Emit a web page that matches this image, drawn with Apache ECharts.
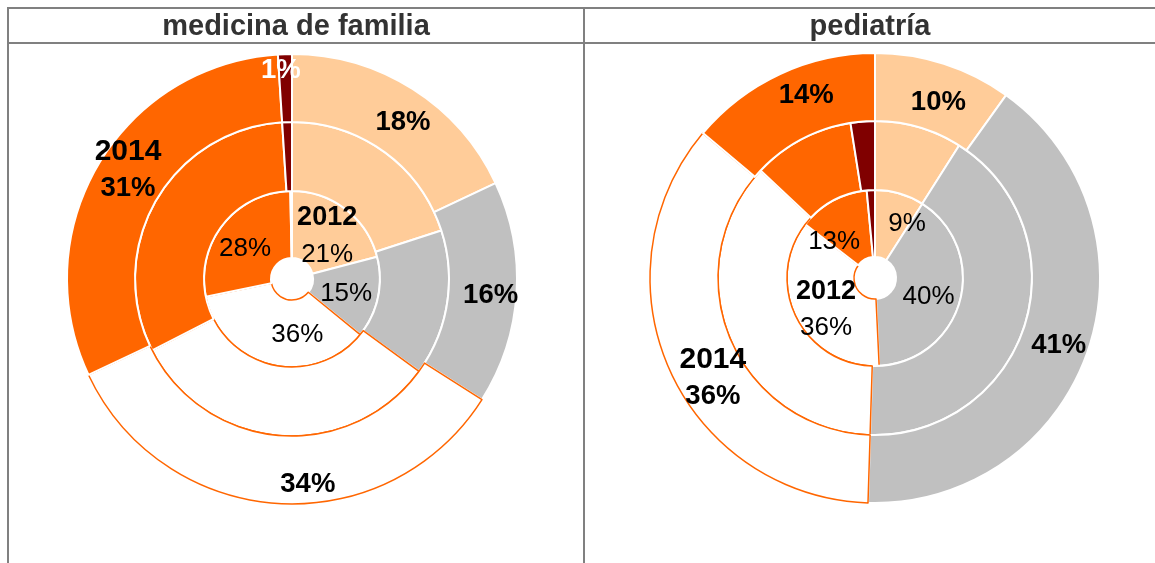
<!DOCTYPE html>
<html lang="es">
<head>
<meta charset="UTF-8">
<title>medicina de familia / pediatría</title>
<script src="https://cdn.jsdelivr.net/npm/echarts@6/dist/echarts.min.js"></script>
<style>html,body{margin:0;padding:0;background:#fff}</style>
</head>
<body>
<div id="main" style="width:1155px;height:563px;"></div>
<script>
// categorias (mismo orden en todos los anillos, en sentido horario desde arriba)
const categories = ['c1', 'c2', 'c3', 'c4', 'c5'];
const years = ['2012', '2013', '2014'];

// medicina de familia
const famValues2012 = [21, 15, 36, 28, 0.3];
const famValues2013 = [20, 15, 32.5, 31.5, 1];
const famValues2014 = [18, 16, 34, 31, 1];

// pediatria
const pedValues2012 = [9, 40, 36, 13, 1.5];
const pedValues2013 = [9, 41.5, 36.5, 10.5, 2.5];
const pedValues2014 = [10, 41, 36, 14, 0];

const colors = ['#FFCC99', '#C0C0C0', '#FFFFFF', '#FF6600', '#800000'];
const FONT = 'Liberation Sans, Arial, sans-serif';
const radii = [[21, 88], [88, 157], [157, 225]];

const panels = [
    {
        title: 'medicina de familia', cx: 296, center: [292, 279],
        rings: [famValues2012, famValues2013, famValues2014],
        tagIndex: { '2012': 0, '2014': 3 },
        hidden: { '2012': [4], '2014': [] },
        // pequeños ajustes de etiquetas (dx, dy)
        shift: {
            '2012': { 0: [0, 3], 1: [-2, 3], 2: [19, 0], 3: [-2, 6] },
            '2014': { 0: [7, 7], 1: [5, 4], 2: [28, 12], 3: [3, -10], 4: [-5, -15] }
        }
    },
    {
        title: 'pediatría', cx: 870, center: [875, 278],
        rings: [pedValues2012, pedValues2013, pedValues2014],
        tagIndex: { '2012': 2, '2014': 2 },
        hidden: { '2012': [4], '2014': [4] },
        shift: {
            '2012': { 0: [16, 1], 1: [-2, 4], 2: [2, 5], 3: [-13, 14] },
            '2014': { 0: [4, 9], 1: [0, 5], 2: [15, 21], 3: [13, -7] }
        }
    }
];

const chart = echarts.init(document.getElementById('main'));
const series = [];

panels.forEach((p) => {
    p.rings.forEach((values, ri) => {
        const year = years[ri];
        const labelled = year !== '2013';
        const outer = year === '2014';
        const shifts = p.shift[year] || {};
        series.push({
            type: 'pie',
            name: p.title + ' ' + year,
            center: p.center,
            radius: radii[ri],
            startAngle: 90,
            clockwise: true,
            avoidLabelOverlap: false,
            minShowLabelAngle: 0,
            silent: true,
            animation: false,
            labelLine: { show: false },
            labelLayout: function (params) {
                const s = shifts[params.dataIndex];
                return s ? { dx: s[0], dy: s[1], hideOverlap: false } : { hideOverlap: false };
            },
            data: values.map((v, i) => {
                const isTag = labelled && p.tagIndex[year] === i;
                const show = labelled && p.hidden[year].indexOf(i) < 0;
                return {
                    name: categories[i],
                    value: v,
                    itemStyle: {
                        color: colors[i],
                        borderColor: i === 2 ? '#FF6600' : '#FFFFFF',
                        borderWidth: i === 2 ? 1.5 : 2
                    },
                    label: {
                        show: show,
                        position: 'inside',
                        overflow: 'none',
                        formatter: isTag ? '{y|' + year + '}\n{v|' + v + '%}' : '{v|' + v + '%}',
                        rich: {
                            y: { fontFamily: FONT, fontSize: outer ? 30 : 27, fontWeight: 'bold', color: '#000', lineHeight: 37 },
                            v: { fontFamily: FONT, fontSize: outer ? 27.5 : 26, fontWeight: outer ? 'bold' : 'normal',
                                 color: i === 4 ? '#FFFFFF' : '#000', lineHeight: 37 }
                        }
                    }
                };
            })
        });
    });
});

const lineStyle = { stroke: '#808080', lineWidth: 2 };
const graphic = [
    { type: 'line', shape: { x1: 7, y1: 8, x2: 1155, y2: 8 }, style: lineStyle },
    { type: 'line', shape: { x1: 7, y1: 43, x2: 1155, y2: 43 }, style: lineStyle },
    { type: 'line', shape: { x1: 8, y1: 7, x2: 8, y2: 563 }, style: lineStyle },
    { type: 'line', shape: { x1: 584, y1: 7, x2: 584, y2: 563 }, style: lineStyle }
];
panels.forEach(p => {
    graphic.push({
        type: 'text', x: p.cx, y: 27,
        style: { text: p.title, fill: '#333333', font: 'bold 29px ' + FONT, align: 'center', verticalAlign: 'middle' }
    });
});

chart.setOption({
    backgroundColor: '#FFFFFF',
    animation: false,
    series: series,
    graphic: graphic
});
</script>
</body>
</html>
